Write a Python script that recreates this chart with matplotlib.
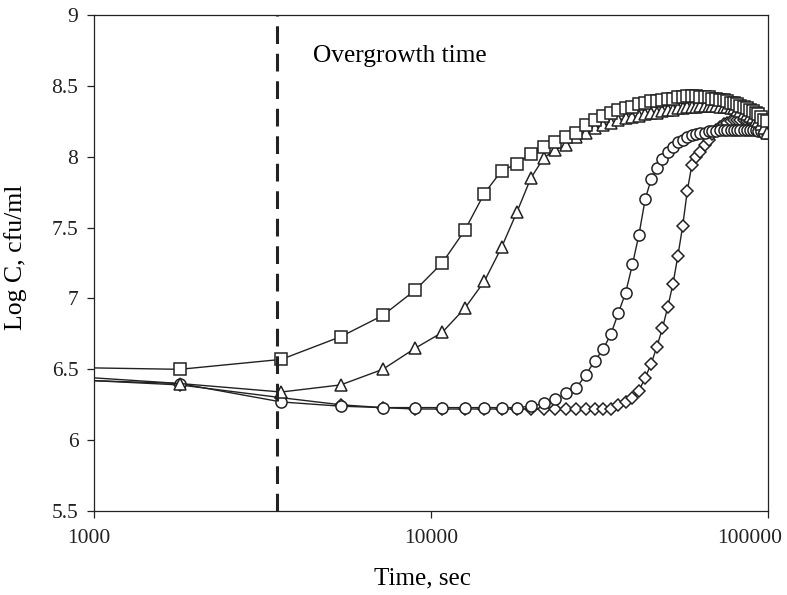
import matplotlib
matplotlib.use("Agg")
import matplotlib.pyplot as plt
import matplotlib.transforms as mtransforms

plt.rcParams['font.family'] = ['Liberation Serif', 'DejaVu Serif']

# time stamps (s): the line starts at 1000 s, markers every 1800 s
t = [1000,
     1800, 3600, 5400, 7200, 9000, 10800, 12600, 14400, 16200, 18000,
     19800, 21600, 23400, 25200, 27000, 28800, 30600, 32400, 34200, 36000,
     37800, 39600, 41400, 43200, 45000, 46800, 48600, 50400, 52200, 54000,
     55800, 57600, 59400, 61200, 63000, 64800, 66600, 68400, 70200, 72000,
     73800, 75600, 77400, 79200, 81000, 82800, 84600, 86400, 88200, 90000,
     91800, 93600, 95400, 97200, 99000]

squares = [6.51,
           6.50, 6.57, 6.73, 6.88, 7.06, 7.25, 7.48, 7.74, 7.90, 7.95,
           8.02, 8.07, 8.10, 8.14, 8.17, 8.22, 8.26, 8.29, 8.31, 8.33,
           8.34, 8.35, 8.37, 8.38, 8.39, 8.39, 8.40, 8.41, 8.41, 8.42,
           8.42, 8.43, 8.43, 8.43, 8.42, 8.42, 8.42, 8.41, 8.41, 8.40,
           8.40, 8.39, 8.38, 8.38, 8.37, 8.36, 8.35, 8.34, 8.33, 8.32,
           8.31, 8.30, 8.28, 8.26, 8.25]

triangles = [6.42,
             6.40, 6.34, 6.39, 6.50, 6.65, 6.76, 6.93, 7.12, 7.36, 7.61,
             7.85, 7.99, 8.05, 8.08, 8.14, 8.17, 8.20, 8.22, 8.24, 8.26,
             8.27, 8.28, 8.29, 8.30, 8.31, 8.31, 8.32, 8.33, 8.33, 8.34,
             8.34, 8.35, 8.35, 8.35, 8.36, 8.36, 8.36, 8.36, 8.36, 8.35,
             8.35, 8.35, 8.34, 8.34, 8.33, 8.32, 8.31, 8.30, 8.29, 8.28,
             8.26, 8.25, 8.23, 8.20, 8.17]

circles = [6.44,
           6.40, 6.27, 6.24, 6.23, 6.23, 6.23, 6.23, 6.23, 6.23, 6.23,
           6.24, 6.26, 6.29, 6.33, 6.37, 6.46, 6.56, 6.64, 6.75, 6.90,
           7.04, 7.24, 7.45, 7.70, 7.84, 7.92, 7.98, 8.03, 8.07, 8.10,
           8.12, 8.14, 8.15, 8.16, 8.17, 8.17, 8.18, 8.18, 8.18, 8.19,
           8.19, 8.19, 8.19, 8.19, 8.19, 8.19, 8.19, 8.19, 8.19, 8.19,
           8.19, 8.18, 8.18, 8.17, 8.17]

diamonds = [6.42,
            6.39, 6.30, 6.25, 6.23, 6.22, 6.22, 6.22, 6.22, 6.22, 6.22,
            6.22, 6.22, 6.22, 6.22, 6.22, 6.22, 6.22, 6.22, 6.22, 6.25,
            6.27, 6.30, 6.35, 6.44, 6.54, 6.66, 6.79, 6.94, 7.10, 7.30,
            7.51, 7.76, 7.94, 8.00, 8.03, 8.08, 8.12, 8.16, 8.19, 8.21,
            8.23, 8.24, 8.25, 8.26, 8.26, 8.26, 8.26, 8.25, 8.25, 8.24,
            8.23, 8.22, 8.21, 8.20, 8.19]

overgrowth_time = 3500
overgrowth_label = "Overgrowth time"

x_ticks = [1000, 10000, 100000]
x_tick_labels = ['1000', '10000', '100000']
y_ticks = [5.5, 6, 6.5, 7, 7.5, 8, 8.5, 9]
y_tick_labels = ['5.5', '6', '6.5', '7', '7.5', '8', '8.5', '9']

fig = plt.figure(figsize=(7.87, 5.95), dpi=100)
ax = fig.add_axes([0.119, 0.141, 0.857, 0.834])

series = [(diamonds, 'D', 6.0), (circles, 'o', 8.0),
          (triangles, '^', 8.5), (squares, 's', 8.5)]
for vals, mk, ms in series:
    ax.plot(t, vals, color='#222222', lw=1.0, marker=mk, ms=ms,
            mfc='white', mec='#222222', mew=1.1,
            markevery=list(range(1, len(t))))

ax.axvline(overgrowth_time, color='#222222', lw=2.2, dashes=(5.8, 3.2))
ax.text(4480, 8.71, overgrowth_label, fontsize=18.3, ha='left', va='center')

ax.set_xscale('log')
ax.set_xlim(1000, 100000)
ax.set_ylim(5.5, 9)
ax.set_xticks(x_ticks)
ax.set_xticklabels(x_tick_labels)
ax.minorticks_off()
ax.set_yticks(y_ticks)
ax.set_yticklabels(y_tick_labels)
ax.tick_params(direction='out', length=5, width=0.9, labelsize=15.5, colors='#222222')
ax.tick_params(axis='x', pad=8)
ax.tick_params(axis='y', pad=6)
for s in ax.spines.values():
    s.set_linewidth(0.9)
    s.set_color('#222222')

# shift end tick labels like the original
xl = ax.get_xticklabels()
xl[0].set_transform(xl[0].get_transform() + mtransforms.ScaledTranslation(-5/100, 0, fig.dpi_scale_trans))
xl[-1].set_transform(xl[-1].get_transform() + mtransforms.ScaledTranslation(-18/100, 0, fig.dpi_scale_trans))

ax.set_xlabel('Time, sec', fontsize=18)
ax.set_ylabel('Log C, cfu/ml', fontsize=18.5)
ax.xaxis.set_label_coords(0.487, -0.113)
ax.yaxis.set_label_coords(-0.099, 0.512)

fig.savefig('out.png', dpi=100)
